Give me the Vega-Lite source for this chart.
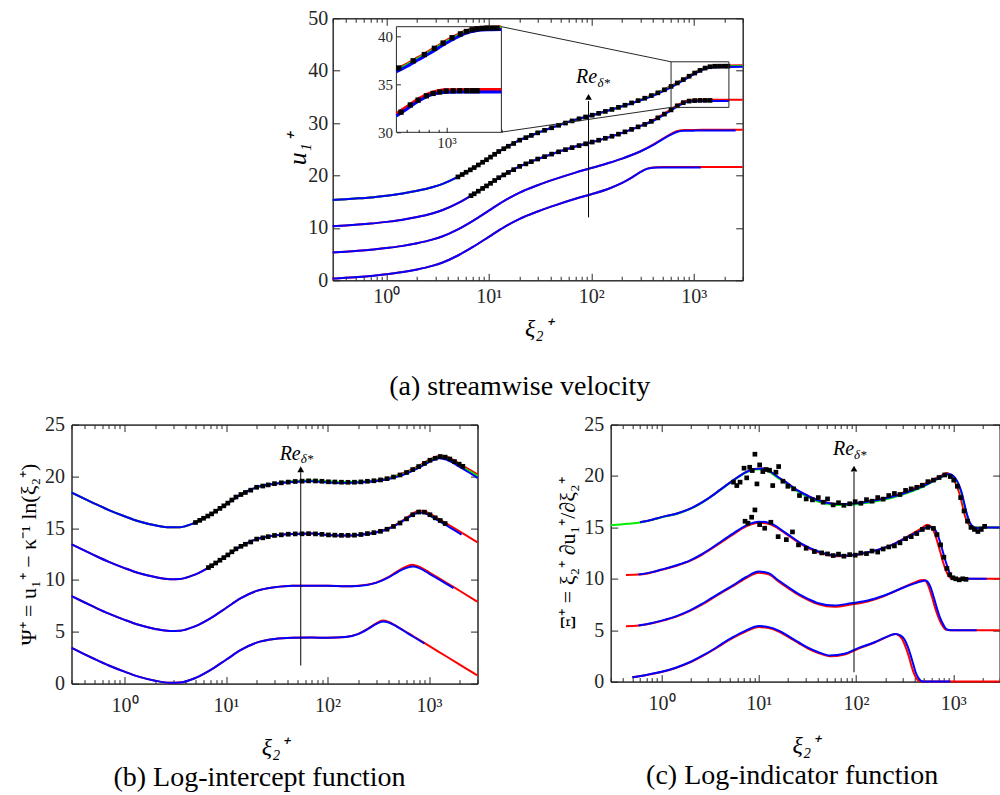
{
"$schema": "https://vega.github.io/schema/vega-lite/v6.json",
"background": "white",
"padding": {"left": 16.5, "top": 7.3, "right": 0, "bottom": 0},
"config": {
  "view": {"stroke": "#262626", "strokeWidth": 1},
  "axis": {"labelFont": "Liberation Serif", "titleFont": "Liberation Serif", "labelColor": "#262626", "titleColor": "#000000", "tickColor": "#262626", "domainColor": "#262626", "grid": false, "titleFontWeight": "normal", "labelFontSize": 20, "titleFontSize": 22, "labelOverlap": false, "labelFlush": false},
  "title": {"font": "Liberation Serif", "fontWeight": "normal", "fontSize": 28, "color": "#000000"}
},
"datasets": {
"ar": [
{"c":1,"x":0.3,"y":0.32},{"c":1,"x":0.4,"y":0.47},{"c":1,"x":0.5,"y":0.6},{"c":1,"x":0.7,"y":0.82},{"c":1,"x":1,"y":1.15},{"c":1,"x":1.4,"y":1.52},{"c":1,"x":2,"y":2.08},{"c":1,"x":2.8,"y":2.76},{"c":1,"x":3.5,"y":3.36},{"c":1,"x":5,"y":4.73},{"c":1,"x":7,"y":6.36},{"c":1,"x":10,"y":8.29},{"c":1,"x":14,"y":10.11},{"c":1,"x":20,"y":11.74},{"c":1,"x":30,"y":13.14},{"c":1,"x":45,"y":14.35},{"c":1,"x":70,"y":15.55},{"c":1,"x":100,"y":16.42},{"c":1,"x":150,"y":17.53},{"c":1,"x":200,"y":18.58},{"c":1,"x":250,"y":19.65},{"c":1,"x":300,"y":20.63},{"c":1,"x":350,"y":21.31},{"c":1,"x":400,"y":21.53},{"c":1,"x":450,"y":21.58},{"c":1,"x":500,"y":21.6},{"c":1,"x":1000,"y":21.6},{"c":1,"x":3000,"y":21.6},
{"c":2,"x":0.3,"y":5.32},{"c":2,"x":0.4,"y":5.47},{"c":2,"x":0.5,"y":5.6},{"c":2,"x":0.7,"y":5.82},{"c":2,"x":1,"y":6.15},{"c":2,"x":1.4,"y":6.52},{"c":2,"x":2,"y":7.08},{"c":2,"x":2.8,"y":7.76},{"c":2,"x":3.5,"y":8.36},{"c":2,"x":5,"y":9.73},{"c":2,"x":7,"y":11.36},{"c":2,"x":10,"y":13.29},{"c":2,"x":14,"y":15.11},{"c":2,"x":20,"y":16.74},{"c":2,"x":30,"y":18.14},{"c":2,"x":45,"y":19.35},{"c":2,"x":70,"y":20.55},{"c":2,"x":100,"y":21.42},{"c":2,"x":150,"y":22.43},{"c":2,"x":200,"y":23.23},{"c":2,"x":300,"y":24.58},{"c":2,"x":400,"y":25.88},{"c":2,"x":500,"y":27.06},{"c":2,"x":600,"y":27.93},{"c":2,"x":680,"y":28.44},{"c":2,"x":800,"y":28.66},{"c":2,"x":1000,"y":28.7},{"c":2,"x":1200,"y":28.72},{"c":2,"x":3000,"y":28.72},
{"c":3,"x":0.3,"y":10.32},{"c":3,"x":0.4,"y":10.47},{"c":3,"x":0.5,"y":10.6},{"c":3,"x":0.7,"y":10.82},{"c":3,"x":1,"y":11.15},{"c":3,"x":1.4,"y":11.52},{"c":3,"x":2,"y":12.08},{"c":3,"x":2.8,"y":12.76},{"c":3,"x":3.5,"y":13.36},{"c":3,"x":5,"y":14.73},{"c":3,"x":7,"y":16.36},{"c":3,"x":10,"y":18.29},{"c":3,"x":14,"y":20.11},{"c":3,"x":20,"y":21.74},{"c":3,"x":30,"y":23.14},{"c":3,"x":45,"y":24.35},{"c":3,"x":70,"y":25.53},{"c":3,"x":100,"y":26.32},{"c":3,"x":150,"y":27.33},{"c":3,"x":200,"y":28.13},{"c":3,"x":300,"y":29.43},{"c":3,"x":400,"y":30.58},{"c":3,"x":500,"y":31.66},{"c":3,"x":600,"y":32.63},{"c":3,"x":700,"y":33.48},{"c":3,"x":800,"y":34.06},{"c":3,"x":900,"y":34.34},{"c":3,"x":1000,"y":34.42},{"c":3,"x":1200,"y":34.44},{"c":3,"x":1500,"y":34.46},{"c":3,"x":3000,"y":34.46},
{"c":4,"x":0.3,"y":15.32},{"c":4,"x":0.4,"y":15.47},{"c":4,"x":0.5,"y":15.6},{"c":4,"x":0.7,"y":15.82},{"c":4,"x":1,"y":16.15},{"c":4,"x":1.4,"y":16.52},{"c":4,"x":2,"y":17.08},{"c":4,"x":2.8,"y":17.76},{"c":4,"x":3.5,"y":18.36},{"c":4,"x":5,"y":19.73},{"c":4,"x":7,"y":21.36},{"c":4,"x":10,"y":23.29},{"c":4,"x":14,"y":25.11},{"c":4,"x":20,"y":26.74},{"c":4,"x":30,"y":28.14},{"c":4,"x":45,"y":29.4},{"c":4,"x":70,"y":30.63},{"c":4,"x":100,"y":31.45},{"c":4,"x":150,"y":32.45},{"c":4,"x":200,"y":33.23},{"c":4,"x":300,"y":34.43},{"c":4,"x":400,"y":35.43},{"c":4,"x":500,"y":36.31},{"c":4,"x":600,"y":37.08},{"c":4,"x":800,"y":38.43},{"c":4,"x":1000,"y":39.56},{"c":4,"x":1260,"y":40.54},{"c":4,"x":1500,"y":40.89},{"c":4,"x":2000,"y":40.98},{"c":4,"x":3000,"y":41.02}
],
"ag": [
{"c":4,"x":0.3,"y":15.32},{"c":4,"x":0.4,"y":15.47},{"c":4,"x":0.5,"y":15.6},{"c":4,"x":0.7,"y":15.82},{"c":4,"x":1,"y":16.15},{"c":4,"x":1.4,"y":16.52},{"c":4,"x":2,"y":17.08},{"c":4,"x":2.8,"y":17.76},{"c":4,"x":3.5,"y":18.36},{"c":4,"x":5,"y":19.73},{"c":4,"x":7,"y":21.36},{"c":4,"x":10,"y":23.29},{"c":4,"x":14,"y":25.11},{"c":4,"x":20,"y":26.74},{"c":4,"x":30,"y":28.14},{"c":4,"x":45,"y":29.4},{"c":4,"x":70,"y":30.63},{"c":4,"x":100,"y":31.45},{"c":4,"x":150,"y":32.45},{"c":4,"x":200,"y":33.23},{"c":4,"x":300,"y":34.36},{"c":4,"x":400,"y":35.33},{"c":4,"x":500,"y":36.2},{"c":4,"x":600,"y":36.96},{"c":4,"x":800,"y":38.31},{"c":4,"x":1000,"y":39.43},{"c":4,"x":1260,"y":40.41},{"c":4,"x":1500,"y":40.76},{"c":4,"x":2000,"y":40.85},{"c":4,"x":3000,"y":40.89}
],
"ab": [
{"c":1,"x":0.3,"y":0.32},{"c":1,"x":0.4,"y":0.47},{"c":1,"x":0.5,"y":0.6},{"c":1,"x":0.7,"y":0.82},{"c":1,"x":1,"y":1.15},{"c":1,"x":1.4,"y":1.52},{"c":1,"x":2,"y":2.08},{"c":1,"x":2.8,"y":2.76},{"c":1,"x":3.5,"y":3.36},{"c":1,"x":5,"y":4.73},{"c":1,"x":7,"y":6.36},{"c":1,"x":10,"y":8.29},{"c":1,"x":14,"y":10.11},{"c":1,"x":20,"y":11.74},{"c":1,"x":30,"y":13.14},{"c":1,"x":45,"y":14.35},{"c":1,"x":70,"y":15.55},{"c":1,"x":100,"y":16.42},{"c":1,"x":150,"y":17.53},{"c":1,"x":200,"y":18.58},{"c":1,"x":250,"y":19.65},{"c":1,"x":300,"y":20.63},{"c":1,"x":350,"y":21.27},{"c":1,"x":400,"y":21.48},{"c":1,"x":450,"y":21.53},{"c":1,"x":500,"y":21.55},{"c":1,"x":1170,"y":21.55},
{"c":2,"x":0.3,"y":5.32},{"c":2,"x":0.4,"y":5.47},{"c":2,"x":0.5,"y":5.6},{"c":2,"x":0.7,"y":5.82},{"c":2,"x":1,"y":6.15},{"c":2,"x":1.4,"y":6.52},{"c":2,"x":2,"y":7.08},{"c":2,"x":2.8,"y":7.76},{"c":2,"x":3.5,"y":8.36},{"c":2,"x":5,"y":9.73},{"c":2,"x":7,"y":11.36},{"c":2,"x":10,"y":13.29},{"c":2,"x":14,"y":15.11},{"c":2,"x":20,"y":16.74},{"c":2,"x":30,"y":18.14},{"c":2,"x":45,"y":19.35},{"c":2,"x":70,"y":20.55},{"c":2,"x":100,"y":21.42},{"c":2,"x":150,"y":22.43},{"c":2,"x":200,"y":23.23},{"c":2,"x":300,"y":24.58},{"c":2,"x":400,"y":25.8},{"c":2,"x":500,"y":26.95},{"c":2,"x":600,"y":27.8},{"c":2,"x":680,"y":28.3},{"c":2,"x":800,"y":28.52},{"c":2,"x":1000,"y":28.56},{"c":2,"x":1200,"y":28.58},{"c":2,"x":2560,"y":28.58},
{"c":3,"x":0.3,"y":10.32},{"c":3,"x":0.4,"y":10.47},{"c":3,"x":0.5,"y":10.6},{"c":3,"x":0.7,"y":10.82},{"c":3,"x":1,"y":11.15},{"c":3,"x":1.4,"y":11.52},{"c":3,"x":2,"y":12.08},{"c":3,"x":2.8,"y":12.76},{"c":3,"x":3.5,"y":13.36},{"c":3,"x":5,"y":14.73},{"c":3,"x":7,"y":16.36},{"c":3,"x":10,"y":18.29},{"c":3,"x":14,"y":20.11},{"c":3,"x":20,"y":21.74},{"c":3,"x":30,"y":23.14},{"c":3,"x":45,"y":24.35},{"c":3,"x":70,"y":25.53},{"c":3,"x":100,"y":26.32},{"c":3,"x":150,"y":27.33},{"c":3,"x":200,"y":28.13},{"c":3,"x":300,"y":29.43},{"c":3,"x":400,"y":30.4},{"c":3,"x":500,"y":31.45},{"c":3,"x":600,"y":32.4},{"c":3,"x":700,"y":33.25},{"c":3,"x":800,"y":33.82},{"c":3,"x":900,"y":34.1},{"c":3,"x":1000,"y":34.18},{"c":3,"x":1200,"y":34.2},{"c":3,"x":2200,"y":34.2},
{"c":4,"x":0.3,"y":15.32},{"c":4,"x":0.4,"y":15.47},{"c":4,"x":0.5,"y":15.6},{"c":4,"x":0.7,"y":15.82},{"c":4,"x":1,"y":16.15},{"c":4,"x":1.4,"y":16.52},{"c":4,"x":2,"y":17.08},{"c":4,"x":2.8,"y":17.76},{"c":4,"x":3.5,"y":18.36},{"c":4,"x":5,"y":19.73},{"c":4,"x":7,"y":21.36},{"c":4,"x":10,"y":23.29},{"c":4,"x":14,"y":25.11},{"c":4,"x":20,"y":26.74},{"c":4,"x":30,"y":28.14},{"c":4,"x":45,"y":29.4},{"c":4,"x":70,"y":30.63},{"c":4,"x":100,"y":31.45},{"c":4,"x":150,"y":32.45},{"c":4,"x":200,"y":33.23},{"c":4,"x":300,"y":34.3},{"c":4,"x":400,"y":35.2},{"c":4,"x":500,"y":36.06},{"c":4,"x":600,"y":36.83},{"c":4,"x":800,"y":38.18},{"c":4,"x":1000,"y":39.3},{"c":4,"x":1260,"y":40.28},{"c":4,"x":1500,"y":40.62},{"c":4,"x":2000,"y":40.72},{"c":4,"x":3000,"y":40.75}
],
"am": [
{"x":5.0,"y":19.73},{"x":5.5,"y":20.19},{"x":6.0,"y":20.62},{"x":6.6,"y":21.08},{"x":7.2,"y":21.51},{"x":7.9,"y":22.01},{"x":8.7,"y":22.53},{"x":9.5,"y":23.01},{"x":10.4,"y":23.51},{"x":11.4,"y":24.05},{"x":12.5,"y":24.58},{"x":14,"y":25.11},{"x":15.5,"y":25.58},{"x":17.5,"y":26.11},{"x":20,"y":26.74},{"x":23,"y":27.22},{"x":26,"y":27.65},{"x":30,"y":28.14},{"x":35,"y":28.62},{"x":41,"y":29.11},{"x":48,"y":29.58},{"x":56,"y":30.01},{"x":65,"y":30.42},{"x":76,"y":30.82},{"x":88,"y":31.17},{"x":102,"y":31.51},{"x":118,"y":31.86},{"x":137,"y":32.23},{"x":159,"y":32.61},{"x":184,"y":33.0},{"x":213,"y":33.41},{"x":247,"y":33.85},{"x":286,"y":34.29},{"x":332,"y":34.75},{"x":385,"y":35.25},{"x":446,"y":35.78},{"x":517,"y":36.36},{"x":600,"y":37.0},{"x":690,"y":37.66},{"x":790,"y":38.3},{"x":900,"y":38.94},{"x":1020,"y":39.55},{"x":1150,"y":40.06},{"x":1290,"y":40.5},{"x":1440,"y":40.76},{"x":1600,"y":40.85},{"x":1780,"y":40.86},{"x":1980,"y":40.86},{"x":2150,"y":40.86},
{"x":6.7,"y":16.15},{"x":7.2,"y":16.51},{"x":7.9,"y":17.01},{"x":8.7,"y":17.53},{"x":9.5,"y":18.01},{"x":10.4,"y":18.51},{"x":11.4,"y":19.05},{"x":12.5,"y":19.58},{"x":14,"y":20.11},{"x":15.5,"y":20.58},{"x":17.5,"y":21.11},{"x":20,"y":21.74},{"x":23,"y":22.22},{"x":26,"y":22.65},{"x":30,"y":23.14},{"x":35,"y":23.6},{"x":41,"y":24.08},{"x":48,"y":24.52},{"x":56,"y":24.93},{"x":65,"y":25.32},{"x":76,"y":25.71},{"x":88,"y":26.05},{"x":102,"y":26.38},{"x":118,"y":26.73},{"x":137,"y":27.1},{"x":159,"y":27.49},{"x":184,"y":27.89},{"x":213,"y":28.33},{"x":247,"y":28.8},{"x":286,"y":29.28},{"x":332,"y":29.75},{"x":385,"y":30.33},{"x":446,"y":31.0},{"x":517,"y":31.72},{"x":600,"y":32.52},{"x":690,"y":33.3},{"x":790,"y":33.9},{"x":900,"y":34.2},{"x":1020,"y":34.3},{"x":1150,"y":34.33},{"x":1290,"y":34.33},{"x":1440,"y":34.33}
],
"ir": [
{"c":3,"x":530,"y":31.95},{"c":3,"x":600,"y":32.63},{"c":3,"x":700,"y":33.48},{"c":3,"x":800,"y":34.06},{"c":3,"x":900,"y":34.34},{"c":3,"x":1000,"y":34.42},{"c":3,"x":1200,"y":34.44},{"c":3,"x":1500,"y":34.46},{"c":3,"x":2000,"y":34.46},
{"c":4,"x":530,"y":36.55},{"c":4,"x":600,"y":37.08},{"c":4,"x":700,"y":37.8},{"c":4,"x":800,"y":38.43},{"c":4,"x":900,"y":39.02},{"c":4,"x":1000,"y":39.56},{"c":4,"x":1130,"y":40.1},{"c":4,"x":1260,"y":40.54},{"c":4,"x":1400,"y":40.78},{"c":4,"x":1500,"y":40.89},{"c":4,"x":1700,"y":40.95},{"c":4,"x":2000,"y":40.98}
],
"ig": [
{"c":4,"x":530,"y":36.43},{"c":4,"x":600,"y":36.96},{"c":4,"x":700,"y":37.68},{"c":4,"x":800,"y":38.31},{"c":4,"x":900,"y":38.9},{"c":4,"x":1000,"y":39.44},{"c":4,"x":1130,"y":39.98},{"c":4,"x":1260,"y":40.42},{"c":4,"x":1400,"y":40.66},{"c":4,"x":1500,"y":40.77},{"c":4,"x":1700,"y":40.83},{"c":4,"x":2000,"y":40.86}
],
"ib": [
{"c":3,"x":530,"y":31.7},{"c":3,"x":600,"y":32.38},{"c":3,"x":700,"y":33.23},{"c":3,"x":800,"y":33.82},{"c":3,"x":900,"y":34.1},{"c":3,"x":1000,"y":34.18},{"c":3,"x":1200,"y":34.2},{"c":3,"x":2000,"y":34.2},
{"c":4,"x":530,"y":36.3},{"c":4,"x":600,"y":36.83},{"c":4,"x":700,"y":37.55},{"c":4,"x":800,"y":38.18},{"c":4,"x":900,"y":38.77},{"c":4,"x":1000,"y":39.3},{"c":4,"x":1130,"y":39.85},{"c":4,"x":1260,"y":40.28},{"c":4,"x":1400,"y":40.52},{"c":4,"x":1500,"y":40.62},{"c":4,"x":1700,"y":40.69},{"c":4,"x":2000,"y":40.72}
],
"im": [
{"x":546,"y":36.7},{"x":655,"y":37.45},{"x":755,"y":38.1},{"x":857,"y":38.75},{"x":957,"y":39.3},{"x":1072,"y":39.85},{"x":1191,"y":40.25},{"x":1285,"y":40.5},{"x":1380,"y":40.68},{"x":1470,"y":40.78},{"x":1567,"y":40.83},{"x":1667,"y":40.86},{"x":1778,"y":40.86},{"x":1892,"y":40.86},
{"x":562,"y":32.1},{"x":632,"y":32.85},{"x":697,"y":33.35},{"x":774,"y":33.8},{"x":843,"y":34.05},{"x":917,"y":34.2},{"x":994,"y":34.3},{"x":1086,"y":34.32},{"x":1181,"y":34.33},{"x":1285,"y":34.33},{"x":1380,"y":34.33},{"x":1470,"y":34.33}
],
"br": [
{"c":1,"x":0.3,"y":3.45},{"c":1,"x":0.4,"y":2.85},{"c":1,"x":0.5,"y":2.4},{"c":1,"x":0.7,"y":1.75},{"c":1,"x":1,"y":1.15},{"c":1,"x":1.4,"y":0.65},{"c":1,"x":2,"y":0.28},{"c":1,"x":2.8,"y":0.08},{"c":1,"x":3.5,"y":0.1},{"c":1,"x":5,"y":0.55},{"c":1,"x":7,"y":1.3},{"c":1,"x":10,"y":2.3},{"c":1,"x":14,"y":3.25},{"c":1,"x":20,"y":3.95},{"c":1,"x":30,"y":4.3},{"c":1,"x":45,"y":4.42},{"c":1,"x":70,"y":4.45},{"c":1,"x":100,"y":4.42},{"c":1,"x":150,"y":4.5},{"c":1,"x":200,"y":4.8},{"c":1,"x":250,"y":5.3},{"c":1,"x":300,"y":5.8},{"c":1,"x":350,"y":6.08},{"c":1,"x":400,"y":5.95},{"c":1,"x":450,"y":5.7},{"c":1,"x":500,"y":5.44},{"c":1,"x":700,"y":4.57},{"c":1,"x":1000,"y":3.64},{"c":1,"x":1500,"y":2.59},{"c":1,"x":2000,"y":1.84},{"c":1,"x":3000,"y":0.78},
{"c":2,"x":0.3,"y":8.45},{"c":2,"x":0.4,"y":7.85},{"c":2,"x":0.5,"y":7.4},{"c":2,"x":0.7,"y":6.75},{"c":2,"x":1,"y":6.15},{"c":2,"x":1.4,"y":5.65},{"c":2,"x":2,"y":5.28},{"c":2,"x":2.8,"y":5.08},{"c":2,"x":3.5,"y":5.1},{"c":2,"x":5,"y":5.55},{"c":2,"x":7,"y":6.3},{"c":2,"x":10,"y":7.3},{"c":2,"x":14,"y":8.25},{"c":2,"x":20,"y":8.95},{"c":2,"x":30,"y":9.3},{"c":2,"x":45,"y":9.45},{"c":2,"x":70,"y":9.45},{"c":2,"x":100,"y":9.45},{"c":2,"x":150,"y":9.4},{"c":2,"x":200,"y":9.45},{"c":2,"x":300,"y":9.75},{"c":2,"x":400,"y":10.3},{"c":2,"x":500,"y":10.9},{"c":2,"x":600,"y":11.3},{"c":2,"x":680,"y":11.48},{"c":2,"x":800,"y":11.28},{"c":2,"x":1000,"y":10.74},{"c":2,"x":1500,"y":9.71},{"c":2,"x":2000,"y":8.96},{"c":2,"x":3000,"y":7.9},
{"c":3,"x":0.3,"y":13.45},{"c":3,"x":0.4,"y":12.85},{"c":3,"x":0.5,"y":12.4},{"c":3,"x":0.7,"y":11.75},{"c":3,"x":1,"y":11.15},{"c":3,"x":1.4,"y":10.65},{"c":3,"x":2,"y":10.28},{"c":3,"x":2.8,"y":10.08},{"c":3,"x":3.5,"y":10.1},{"c":3,"x":5,"y":10.55},{"c":3,"x":7,"y":11.3},{"c":3,"x":10,"y":12.3},{"c":3,"x":14,"y":13.25},{"c":3,"x":20,"y":13.95},{"c":3,"x":30,"y":14.3},{"c":3,"x":45,"y":14.45},{"c":3,"x":70,"y":14.48},{"c":3,"x":100,"y":14.35},{"c":3,"x":150,"y":14.3},{"c":3,"x":200,"y":14.35},{"c":3,"x":300,"y":14.6},{"c":3,"x":400,"y":15.0},{"c":3,"x":500,"y":15.5},{"c":3,"x":600,"y":16.0},{"c":3,"x":700,"y":16.45},{"c":3,"x":800,"y":16.68},{"c":3,"x":900,"y":16.65},{"c":3,"x":1000,"y":16.42},{"c":3,"x":1200,"y":15.98},{"c":3,"x":1500,"y":15.43},{"c":3,"x":2000,"y":14.7},{"c":3,"x":3000,"y":13.64},
{"c":4,"x":0.3,"y":18.45},{"c":4,"x":0.4,"y":17.85},{"c":4,"x":0.5,"y":17.4},{"c":4,"x":0.7,"y":16.75},{"c":4,"x":1,"y":16.15},{"c":4,"x":1.4,"y":15.65},{"c":4,"x":2,"y":15.28},{"c":4,"x":2.8,"y":15.08},{"c":4,"x":3.5,"y":15.1},{"c":4,"x":5,"y":15.55},{"c":4,"x":7,"y":16.3},{"c":4,"x":10,"y":17.3},{"c":4,"x":14,"y":18.25},{"c":4,"x":20,"y":18.95},{"c":4,"x":30,"y":19.3},{"c":4,"x":45,"y":19.5},{"c":4,"x":70,"y":19.58},{"c":4,"x":100,"y":19.48},{"c":4,"x":150,"y":19.42},{"c":4,"x":200,"y":19.45},{"c":4,"x":300,"y":19.6},{"c":4,"x":400,"y":19.85},{"c":4,"x":500,"y":20.15},{"c":4,"x":600,"y":20.45},{"c":4,"x":800,"y":21.05},{"c":4,"x":1000,"y":21.6},{"c":4,"x":1260,"y":21.98},{"c":4,"x":1500,"y":21.88},{"c":4,"x":2000,"y":21.22},{"c":4,"x":2500,"y":20.65},{"c":4,"x":3000,"y":20.2}
],
"bg": [
{"c":4,"x":0.3,"y":18.45},{"c":4,"x":0.4,"y":17.85},{"c":4,"x":0.5,"y":17.4},{"c":4,"x":0.7,"y":16.75},{"c":4,"x":1,"y":16.15},{"c":4,"x":1.4,"y":15.65},{"c":4,"x":2,"y":15.28},{"c":4,"x":2.8,"y":15.08},{"c":4,"x":3.5,"y":15.1},{"c":4,"x":5,"y":15.55},{"c":4,"x":7,"y":16.3},{"c":4,"x":10,"y":17.3},{"c":4,"x":14,"y":18.25},{"c":4,"x":20,"y":18.95},{"c":4,"x":30,"y":19.3},{"c":4,"x":45,"y":19.52},{"c":4,"x":70,"y":19.6},{"c":4,"x":100,"y":19.52},{"c":4,"x":150,"y":19.46},{"c":4,"x":200,"y":19.48},{"c":4,"x":300,"y":19.57},{"c":4,"x":400,"y":19.8},{"c":4,"x":500,"y":20.08},{"c":4,"x":600,"y":20.37},{"c":4,"x":800,"y":20.95},{"c":4,"x":1000,"y":21.49},{"c":4,"x":1260,"y":21.86},{"c":4,"x":1500,"y":21.74},{"c":4,"x":2000,"y":21.07},{"c":4,"x":2500,"y":20.5},{"c":4,"x":3000,"y":20.03}
],
"bb": [
{"c":1,"x":0.3,"y":3.45},{"c":1,"x":0.4,"y":2.85},{"c":1,"x":0.5,"y":2.4},{"c":1,"x":0.7,"y":1.75},{"c":1,"x":1,"y":1.15},{"c":1,"x":1.4,"y":0.65},{"c":1,"x":2,"y":0.28},{"c":1,"x":2.8,"y":0.08},{"c":1,"x":3.5,"y":0.1},{"c":1,"x":5,"y":0.55},{"c":1,"x":7,"y":1.3},{"c":1,"x":10,"y":2.3},{"c":1,"x":14,"y":3.25},{"c":1,"x":20,"y":3.95},{"c":1,"x":30,"y":4.3},{"c":1,"x":45,"y":4.42},{"c":1,"x":70,"y":4.45},{"c":1,"x":100,"y":4.42},{"c":1,"x":150,"y":4.5},{"c":1,"x":200,"y":4.78},{"c":1,"x":250,"y":5.27},{"c":1,"x":300,"y":5.75},{"c":1,"x":350,"y":6.0},{"c":1,"x":400,"y":5.9},{"c":1,"x":450,"y":5.66},{"c":1,"x":500,"y":5.4},{"c":1,"x":700,"y":4.52},{"c":1,"x":900,"y":3.87},
{"c":2,"x":0.3,"y":8.45},{"c":2,"x":0.4,"y":7.85},{"c":2,"x":0.5,"y":7.4},{"c":2,"x":0.7,"y":6.75},{"c":2,"x":1,"y":6.15},{"c":2,"x":1.4,"y":5.65},{"c":2,"x":2,"y":5.28},{"c":2,"x":2.8,"y":5.08},{"c":2,"x":3.5,"y":5.1},{"c":2,"x":5,"y":5.55},{"c":2,"x":7,"y":6.3},{"c":2,"x":10,"y":7.3},{"c":2,"x":14,"y":8.25},{"c":2,"x":20,"y":8.95},{"c":2,"x":30,"y":9.3},{"c":2,"x":45,"y":9.45},{"c":2,"x":70,"y":9.45},{"c":2,"x":100,"y":9.45},{"c":2,"x":150,"y":9.4},{"c":2,"x":200,"y":9.43},{"c":2,"x":300,"y":9.72},{"c":2,"x":400,"y":10.25},{"c":2,"x":500,"y":10.82},{"c":2,"x":600,"y":11.17},{"c":2,"x":700,"y":11.3},{"c":2,"x":800,"y":11.15},{"c":2,"x":1000,"y":10.62},{"c":2,"x":1500,"y":9.6},{"c":2,"x":1740,"y":9.22},
{"c":3,"x":0.3,"y":13.45},{"c":3,"x":0.4,"y":12.85},{"c":3,"x":0.5,"y":12.4},{"c":3,"x":0.7,"y":11.75},{"c":3,"x":1,"y":11.15},{"c":3,"x":1.4,"y":10.65},{"c":3,"x":2,"y":10.28},{"c":3,"x":2.8,"y":10.08},{"c":3,"x":3.5,"y":10.1},{"c":3,"x":5,"y":10.55},{"c":3,"x":7,"y":11.3},{"c":3,"x":10,"y":12.3},{"c":3,"x":14,"y":13.25},{"c":3,"x":20,"y":13.95},{"c":3,"x":30,"y":14.3},{"c":3,"x":45,"y":14.45},{"c":3,"x":70,"y":14.48},{"c":3,"x":100,"y":14.35},{"c":3,"x":150,"y":14.3},{"c":3,"x":200,"y":14.35},{"c":3,"x":300,"y":14.58},{"c":3,"x":400,"y":14.95},{"c":3,"x":500,"y":15.43},{"c":3,"x":600,"y":15.92},{"c":3,"x":700,"y":16.32},{"c":3,"x":800,"y":16.52},{"c":3,"x":900,"y":16.47},{"c":3,"x":1000,"y":16.24},{"c":3,"x":1200,"y":15.8},{"c":3,"x":1500,"y":15.25},{"c":3,"x":2090,"y":14.38},
{"c":4,"x":0.3,"y":18.45},{"c":4,"x":0.4,"y":17.85},{"c":4,"x":0.5,"y":17.4},{"c":4,"x":0.7,"y":16.75},{"c":4,"x":1,"y":16.15},{"c":4,"x":1.4,"y":15.65},{"c":4,"x":2,"y":15.28},{"c":4,"x":2.8,"y":15.08},{"c":4,"x":3.5,"y":15.1},{"c":4,"x":5,"y":15.55},{"c":4,"x":7,"y":16.3},{"c":4,"x":10,"y":17.3},{"c":4,"x":14,"y":18.25},{"c":4,"x":20,"y":18.95},{"c":4,"x":30,"y":19.28},{"c":4,"x":45,"y":19.46},{"c":4,"x":70,"y":19.52},{"c":4,"x":100,"y":19.42},{"c":4,"x":150,"y":19.36},{"c":4,"x":200,"y":19.4},{"c":4,"x":300,"y":19.55},{"c":4,"x":400,"y":19.75},{"c":4,"x":500,"y":20.0},{"c":4,"x":600,"y":20.28},{"c":4,"x":800,"y":20.85},{"c":4,"x":1000,"y":21.38},{"c":4,"x":1260,"y":21.75},{"c":4,"x":1500,"y":21.6},{"c":4,"x":2000,"y":20.92},{"c":4,"x":2500,"y":20.35},{"c":4,"x":3000,"y":19.86}
],
"bm": [
{"x":5.0,"y":15.55},{"x":5.5,"y":15.76},{"x":6.0,"y":15.96},{"x":6.6,"y":16.17},{"x":7.2,"y":16.38},{"x":7.9,"y":16.64},{"x":8.7,"y":16.91},{"x":9.5,"y":17.16},{"x":10.4,"y":17.42},{"x":11.4,"y":17.72},{"x":12.5,"y":18.01},{"x":14,"y":18.25},{"x":15.5,"y":18.45},{"x":17.5,"y":18.67},{"x":20,"y":18.95},{"x":23,"y":19.07},{"x":26,"y":19.18},{"x":30,"y":19.3},{"x":35,"y":19.38},{"x":41,"y":19.45},{"x":48,"y":19.51},{"x":56,"y":19.54},{"x":65,"y":19.57},{"x":76,"y":19.56},{"x":88,"y":19.53},{"x":102,"y":19.48},{"x":118,"y":19.46},{"x":137,"y":19.44},{"x":159,"y":19.43},{"x":184,"y":19.44},{"x":213,"y":19.47},{"x":247,"y":19.53},{"x":286,"y":19.58},{"x":332,"y":19.66},{"x":385,"y":19.78},{"x":446,"y":19.94},{"x":517,"y":20.14},{"x":600,"y":20.38},{"x":690,"y":20.66},{"x":790,"y":20.95},{"x":900,"y":21.25},{"x":1020,"y":21.56},{"x":1150,"y":21.75},{"x":1290,"y":21.92},{"x":1440,"y":21.86},{"x":1600,"y":21.68},{"x":1780,"y":21.43},{"x":1980,"y":21.18},{"x":2150,"y":20.97},
{"x":6.7,"y":11.2},{"x":7.2,"y":11.38},{"x":7.9,"y":11.64},{"x":8.7,"y":11.91},{"x":9.5,"y":12.16},{"x":10.4,"y":12.42},{"x":11.4,"y":12.72},{"x":12.5,"y":13.01},{"x":14,"y":13.25},{"x":15.5,"y":13.45},{"x":17.5,"y":13.67},{"x":20,"y":13.95},{"x":23,"y":14.07},{"x":26,"y":14.18},{"x":30,"y":14.3},{"x":35,"y":14.36},{"x":41,"y":14.42},{"x":48,"y":14.45},{"x":56,"y":14.46},{"x":65,"y":14.47},{"x":76,"y":14.45},{"x":88,"y":14.41},{"x":102,"y":14.35},{"x":118,"y":14.33},{"x":137,"y":14.31},{"x":159,"y":14.31},{"x":184,"y":14.33},{"x":213,"y":14.39},{"x":247,"y":14.48},{"x":286,"y":14.57},{"x":332,"y":14.7},{"x":385,"y":14.9},{"x":446,"y":15.17},{"x":517,"y":15.5},{"x":600,"y":15.9},{"x":690,"y":16.3},{"x":790,"y":16.56},{"x":900,"y":16.55},{"x":1020,"y":16.3},{"x":1150,"y":16.0},{"x":1290,"y":15.74},{"x":1440,"y":15.45}
],
"cr": [
{"c":1,"x":0.5,"y":0.42},{"c":1,"x":0.7,"y":0.64},{"c":1,"x":1,"y":0.93},{"c":1,"x":1.4,"y":1.32},{"c":1,"x":1.94,"y":1.84},{"c":1,"x":2.6,"y":2.45},{"c":1,"x":3.36,"y":3.05},{"c":1,"x":4.2,"y":3.63},{"c":1,"x":5.36,"y":4.22},{"c":1,"x":7.34,"y":4.86},{"c":1,"x":10,"y":5.3},{"c":1,"x":12.6,"y":5.2},{"c":1,"x":16,"y":4.86},{"c":1,"x":20,"y":4.35},{"c":1,"x":25.6,"y":3.75},{"c":1,"x":32,"y":3.22},{"c":1,"x":41,"y":2.78},{"c":1,"x":54,"y":2.46},{"c":1,"x":76,"y":2.64},{"c":1,"x":105,"y":3.2},{"c":1,"x":155,"y":3.8},{"c":1,"x":200,"y":4.28},{"c":1,"x":229,"y":4.52},{"c":1,"x":250,"y":4.62},{"c":1,"x":275,"y":4.5},{"c":1,"x":300,"y":4.1},{"c":1,"x":325,"y":3.3},{"c":1,"x":350,"y":2.4},{"c":1,"x":372,"y":1.5},{"c":1,"x":392,"y":0.85},{"c":1,"x":415,"y":0.35},{"c":1,"x":440,"y":0.08},{"c":1,"x":480,"y":0.0},{"c":1,"x":3000,"y":0.0},
{"c":2,"x":0.43,"y":5.38},{"c":2,"x":0.58,"y":5.45},{"c":2,"x":0.8,"y":5.68},{"c":2,"x":1,"y":5.9},{"c":2,"x":1.4,"y":6.3},{"c":2,"x":1.94,"y":6.85},{"c":2,"x":2.6,"y":7.48},{"c":2,"x":3.36,"y":8.12},{"c":2,"x":4.2,"y":8.67},{"c":2,"x":5.36,"y":9.25},{"c":2,"x":7.34,"y":10.05},{"c":2,"x":10,"y":10.58},{"c":2,"x":12.6,"y":10.45},{"c":2,"x":16,"y":9.73},{"c":2,"x":20,"y":9.1},{"c":2,"x":25.6,"y":8.43},{"c":2,"x":32,"y":7.95},{"c":2,"x":41,"y":7.52},{"c":2,"x":60,"y":7.28},{"c":2,"x":89,"y":7.5},{"c":2,"x":132,"y":7.8},{"c":2,"x":195,"y":8.33},{"c":2,"x":313,"y":9.2},{"c":2,"x":400,"y":9.65},{"c":2,"x":461,"y":9.85},{"c":2,"x":500,"y":9.88},{"c":2,"x":530,"y":9.7},{"c":2,"x":560,"y":9.2},{"c":2,"x":605,"y":8.2},{"c":2,"x":655,"y":7.07},{"c":2,"x":700,"y":6.3},{"c":2,"x":740,"y":5.77},{"c":2,"x":785,"y":5.35},{"c":2,"x":835,"y":5.06},{"c":2,"x":920,"y":5.0},{"c":2,"x":3000,"y":5.0},
{"c":3,"x":0.43,"y":10.38},{"c":3,"x":0.58,"y":10.41},{"c":3,"x":0.8,"y":10.63},{"c":3,"x":1,"y":10.87},{"c":3,"x":1.4,"y":11.25},{"c":3,"x":1.94,"y":11.72},{"c":3,"x":2.6,"y":12.33},{"c":3,"x":3.36,"y":13.0},{"c":3,"x":4.2,"y":13.62},{"c":3,"x":5.36,"y":14.28},{"c":3,"x":7.34,"y":15.08},{"c":3,"x":10,"y":15.45},{"c":3,"x":12.6,"y":15.35},{"c":3,"x":18.7,"y":14.42},{"c":3,"x":27.7,"y":13.32},{"c":3,"x":41,"y":12.58},{"c":3,"x":65,"y":12.2},{"c":3,"x":97,"y":12.3},{"c":3,"x":155,"y":12.72},{"c":3,"x":228,"y":13.25},{"c":3,"x":337,"y":14.1},{"c":3,"x":461,"y":14.85},{"c":3,"x":540,"y":15.25},{"c":3,"x":600,"y":15.0},{"c":3,"x":650,"y":14.3},{"c":3,"x":695,"y":13.4},{"c":3,"x":735,"y":12.6},{"c":3,"x":780,"y":11.7},{"c":3,"x":830,"y":10.95},{"c":3,"x":880,"y":10.4},{"c":3,"x":940,"y":10.08},{"c":3,"x":1050,"y":10.0},{"c":3,"x":3000,"y":10.0},
{"c":4,"x":0.6,"y":15.5},{"c":4,"x":0.8,"y":15.75},{"c":4,"x":1,"y":16.0},{"c":4,"x":1.5,"y":16.4},{"c":4,"x":2,"y":16.85},{"c":4,"x":3,"y":17.8},{"c":4,"x":4,"y":18.65},{"c":4,"x":5.4,"y":19.55},{"c":4,"x":7.3,"y":20.35},{"c":4,"x":9,"y":20.68},{"c":4,"x":11,"y":20.72},{"c":4,"x":13,"y":20.45},{"c":4,"x":16,"y":19.85},{"c":4,"x":19,"y":19.4},{"c":4,"x":25,"y":18.6},{"c":4,"x":30,"y":18.2},{"c":4,"x":40,"y":17.65},{"c":4,"x":50,"y":17.4},{"c":4,"x":60,"y":17.28},{"c":4,"x":80,"y":17.28},{"c":4,"x":100,"y":17.35},{"c":4,"x":150,"y":17.62},{"c":4,"x":230,"y":18.0},{"c":4,"x":340,"y":18.55},{"c":4,"x":500,"y":19.2},{"c":4,"x":740,"y":20.0},{"c":4,"x":860,"y":20.3},{"c":4,"x":950,"y":20.0},{"c":4,"x":1040,"y":19.4},{"c":4,"x":1110,"y":18.8},{"c":4,"x":1180,"y":18.0},{"c":4,"x":1250,"y":17.0},{"c":4,"x":1330,"y":16.0},{"c":4,"x":1420,"y":15.4},{"c":4,"x":1520,"y":15.08},{"c":4,"x":1620,"y":14.98},{"c":4,"x":2000,"y":15.0},{"c":4,"x":3000,"y":15.0}
],
"cg": [
{"c":4,"x":0.3,"y":15.22},{"c":4,"x":0.45,"y":15.36},{"c":4,"x":0.6,"y":15.48},{"c":4,"x":0.8,"y":15.73},{"c":4,"x":1,"y":15.98},{"c":4,"x":1.5,"y":16.38},{"c":4,"x":2,"y":16.83},{"c":4,"x":3,"y":17.78},{"c":4,"x":4,"y":18.63},{"c":4,"x":5.4,"y":19.53},{"c":4,"x":7.3,"y":20.32},{"c":4,"x":9,"y":20.64},{"c":4,"x":11,"y":20.66},{"c":4,"x":13,"y":20.38},{"c":4,"x":16,"y":19.76},{"c":4,"x":19,"y":19.3},{"c":4,"x":25,"y":18.5},{"c":4,"x":30,"y":18.1},{"c":4,"x":40,"y":17.55},{"c":4,"x":50,"y":17.3},{"c":4,"x":60,"y":17.18},{"c":4,"x":80,"y":17.18},{"c":4,"x":100,"y":17.25},{"c":4,"x":150,"y":17.5},{"c":4,"x":230,"y":17.86},{"c":4,"x":340,"y":18.36},{"c":4,"x":500,"y":19.0},{"c":4,"x":740,"y":19.84},{"c":4,"x":900,"y":20.15},{"c":4,"x":1000,"y":19.95},{"c":4,"x":1090,"y":19.45},{"c":4,"x":1160,"y":18.85},{"c":4,"x":1230,"y":18.05},{"c":4,"x":1300,"y":17.1},{"c":4,"x":1380,"y":16.15},{"c":4,"x":1460,"y":15.5},{"c":4,"x":1550,"y":15.12},{"c":4,"x":1650,"y":14.98},{"c":4,"x":2000,"y":15.0},{"c":4,"x":3000,"y":15.0}
],
"cb": [
{"c":1,"x":0.5,"y":0.42},{"c":1,"x":0.7,"y":0.65},{"c":1,"x":1,"y":0.95},{"c":1,"x":1.4,"y":1.35},{"c":1,"x":1.94,"y":1.88},{"c":1,"x":2.6,"y":2.5},{"c":1,"x":3.36,"y":3.1},{"c":1,"x":4.2,"y":3.7},{"c":1,"x":5.36,"y":4.3},{"c":1,"x":7.34,"y":4.96},{"c":1,"x":10,"y":5.4},{"c":1,"x":12.6,"y":5.3},{"c":1,"x":16,"y":4.96},{"c":1,"x":20,"y":4.45},{"c":1,"x":25.6,"y":3.83},{"c":1,"x":32,"y":3.3},{"c":1,"x":41,"y":2.86},{"c":1,"x":54,"y":2.53},{"c":1,"x":76,"y":2.7},{"c":1,"x":105,"y":3.25},{"c":1,"x":155,"y":3.83},{"c":1,"x":200,"y":4.3},{"c":1,"x":229,"y":4.54},{"c":1,"x":257,"y":4.64},{"c":1,"x":285,"y":4.5},{"c":1,"x":313,"y":4.15},{"c":1,"x":340,"y":3.4},{"c":1,"x":365,"y":2.53},{"c":1,"x":390,"y":1.6},{"c":1,"x":410,"y":0.91},{"c":1,"x":435,"y":0.4},{"c":1,"x":461,"y":0.1},{"c":1,"x":500,"y":0.0},{"c":1,"x":933,"y":0.0},
{"c":2,"x":0.58,"y":5.45},{"c":2,"x":0.8,"y":5.7},{"c":2,"x":1,"y":5.93},{"c":2,"x":1.4,"y":6.35},{"c":2,"x":1.94,"y":6.9},{"c":2,"x":2.6,"y":7.55},{"c":2,"x":3.36,"y":8.2},{"c":2,"x":4.2,"y":8.75},{"c":2,"x":5.36,"y":9.34},{"c":2,"x":7.34,"y":10.15},{"c":2,"x":10,"y":10.7},{"c":2,"x":12.6,"y":10.55},{"c":2,"x":16,"y":9.83},{"c":2,"x":20,"y":9.2},{"c":2,"x":25.6,"y":8.53},{"c":2,"x":32,"y":8.05},{"c":2,"x":41,"y":7.62},{"c":2,"x":60,"y":7.4},{"c":2,"x":89,"y":7.62},{"c":2,"x":132,"y":7.88},{"c":2,"x":195,"y":8.37},{"c":2,"x":313,"y":9.18},{"c":2,"x":400,"y":9.55},{"c":2,"x":461,"y":9.73},{"c":2,"x":519,"y":9.83},{"c":2,"x":550,"y":9.65},{"c":2,"x":583,"y":9.18},{"c":2,"x":630,"y":8.2},{"c":2,"x":682,"y":7.07},{"c":2,"x":725,"y":6.3},{"c":2,"x":767,"y":5.77},{"c":2,"x":810,"y":5.35},{"c":2,"x":862,"y":5.06},{"c":2,"x":950,"y":5.0},{"c":2,"x":1740,"y":5.0},
{"c":3,"x":0.58,"y":10.41},{"c":3,"x":0.8,"y":10.65},{"c":3,"x":1,"y":10.9},{"c":3,"x":1.4,"y":11.3},{"c":3,"x":1.94,"y":11.77},{"c":3,"x":2.6,"y":12.4},{"c":3,"x":3.36,"y":13.07},{"c":3,"x":4.2,"y":13.7},{"c":3,"x":5.36,"y":14.37},{"c":3,"x":7.34,"y":15.18},{"c":3,"x":10,"y":15.55},{"c":3,"x":12.6,"y":15.45},{"c":3,"x":18.7,"y":14.5},{"c":3,"x":27.7,"y":13.4},{"c":3,"x":41,"y":12.65},{"c":3,"x":65,"y":12.26},{"c":3,"x":97,"y":12.35},{"c":3,"x":155,"y":12.74},{"c":3,"x":228,"y":13.23},{"c":3,"x":337,"y":14.04},{"c":3,"x":461,"y":14.69},{"c":3,"x":561,"y":15.05},{"c":3,"x":620,"y":14.95},{"c":3,"x":682,"y":14.4},{"c":3,"x":725,"y":13.7},{"c":3,"x":767,"y":12.9},{"c":3,"x":815,"y":12.0},{"c":3,"x":862,"y":11.29},{"c":3,"x":915,"y":10.6},{"c":3,"x":970,"y":10.15},{"c":3,"x":1090,"y":9.97},{"c":3,"x":1250,"y":10.0},{"c":3,"x":2200,"y":10.0},
{"c":4,"x":0.6,"y":15.5},{"c":4,"x":0.8,"y":15.75},{"c":4,"x":1,"y":16.0},{"c":4,"x":1.5,"y":16.4},{"c":4,"x":2,"y":16.85},{"c":4,"x":3,"y":17.8},{"c":4,"x":4,"y":18.65},{"c":4,"x":5.4,"y":19.55},{"c":4,"x":7.3,"y":20.35},{"c":4,"x":9,"y":20.68},{"c":4,"x":11,"y":20.72},{"c":4,"x":13,"y":20.45},{"c":4,"x":16,"y":19.85},{"c":4,"x":19,"y":19.4},{"c":4,"x":25,"y":18.6},{"c":4,"x":30,"y":18.2},{"c":4,"x":40,"y":17.65},{"c":4,"x":50,"y":17.4},{"c":4,"x":60,"y":17.28},{"c":4,"x":80,"y":17.28},{"c":4,"x":100,"y":17.35},{"c":4,"x":150,"y":17.6},{"c":4,"x":230,"y":17.95},{"c":4,"x":340,"y":18.45},{"c":4,"x":500,"y":19.07},{"c":4,"x":740,"y":19.88},{"c":4,"x":900,"y":20.2},{"c":4,"x":1000,"y":20.0},{"c":4,"x":1090,"y":19.55},{"c":4,"x":1160,"y":19.0},{"c":4,"x":1230,"y":18.26},{"c":4,"x":1300,"y":17.3},{"c":4,"x":1380,"y":16.31},{"c":4,"x":1460,"y":15.6},{"c":4,"x":1550,"y":15.18},{"c":4,"x":1650,"y":15.0},{"c":4,"x":1750,"y":14.95},{"c":4,"x":2000,"y":15.0},{"c":4,"x":3000,"y":15.0}
],
"cm": [
{"x":5.49,"y":19.4},{"x":5.94,"y":19.07},{"x":6.42,"y":19.4},{"x":7.05,"y":20.76},{"x":7.51,"y":19.82},{"x":8.06,"y":20.85},{"x":8.57,"y":20.53},{"x":9.12,"y":22.12},{"x":9.57,"y":19.23},{"x":10.2,"y":21.08},{"x":11.0,"y":20.43},{"x":11.9,"y":20.63},{"x":12.9,"y":20.56},{"x":13.9,"y":19.07},{"x":15.0,"y":20.37},{"x":16.0,"y":20.92},{"x":17.7,"y":19.49},{"x":19.9,"y":19.0},{"x":22.8,"y":18.75},{"x":26.2,"y":18.1},{"x":30.7,"y":17.77},{"x":35.6,"y":17.68},{"x":40.9,"y":17.9},{"x":46,"y":17.45},{"x":50.9,"y":17.77},{"x":58.2,"y":17.19},{"x":66,"y":17.4},{"x":75,"y":17.15},{"x":86,"y":17.3},{"x":98,"y":17.5},{"x":112,"y":17.35},{"x":128,"y":17.7},{"x":146,"y":17.55},{"x":167,"y":17.9},{"x":190,"y":17.75},{"x":217,"y":18.1},{"x":248,"y":18.3},{"x":283,"y":18.2},{"x":323,"y":18.6},{"x":369,"y":18.75},{"x":421,"y":18.9},{"x":480,"y":19.1},{"x":548,"y":19.45},{"x":625,"y":19.6},{"x":714,"y":19.85},{"x":815,"y":20.1},{"x":930,"y":19.95},{"x":1010,"y":19.6},{"x":1100,"y":19.0},{"x":1190,"y":17.9},{"x":1290,"y":16.6},{"x":1400,"y":15.6},{"x":1520,"y":15.0},{"x":1650,"y":14.8},{"x":1790,"y":14.6},{"x":1940,"y":14.8},{"x":2100,"y":15.1},
{"x":7.22,"y":15.6},{"x":7.74,"y":15.41},{"x":8.44,"y":15.99},{"x":9.12,"y":16.7},{"x":10.2,"y":15.27},{"x":11.5,"y":14.92},{"x":13.3,"y":15.5},{"x":15.8,"y":14.1},{"x":19.2,"y":13.81},{"x":22.2,"y":14.56},{"x":25.6,"y":13.3},{"x":30.7,"y":12.97},{"x":37.3,"y":12.65},{"x":44.3,"y":12.52},{"x":50.9,"y":12.42},{"x":58.2,"y":12.26},{"x":66,"y":12.4},{"x":75,"y":12.2},{"x":86,"y":12.35},{"x":98,"y":12.3},{"x":112,"y":12.5},{"x":128,"y":12.45},{"x":146,"y":12.7},{"x":167,"y":12.6},{"x":190,"y":12.9},{"x":217,"y":13.1},{"x":248,"y":13.2},{"x":283,"y":13.5},{"x":323,"y":13.9},{"x":369,"y":14.1},{"x":421,"y":14.4},{"x":480,"y":14.8},{"x":548,"y":15.0},{"x":625,"y":14.9},{"x":680,"y":14.3},{"x":740,"y":13.3},{"x":800,"y":12.1},{"x":860,"y":11.0},{"x":920,"y":10.4},{"x":990,"y":10.1},{"x":1060,"y":10.0},{"x":1150,"y":9.9},{"x":1250,"y":10.0},{"x":1350,"y":9.95}
]
},
"vconcat": [
{
  "hconcat": [
    {
      "width": 127.6, "height": 262,
      "data": {"values": [{"x": 1}]},
      "mark": {"type": "point", "opacity": 0},
      "view": {"stroke": null}
    },
    {
      "width": 410, "height": 262,
      "title": {"text": "(a) streamwise velocity", "orient": "bottom", "offset": 33, "dx": -18, "anchor": "middle", "frame": "group"},
      "layer": [
        {
          "encoding": {
            "x": {"field": "x", "type": "quantitative", "scale": {"type": "log", "domain": [0.3, 3000], "nice": false},
                  "axis": {"orient": "bottom", "values": [0.3,0.4,0.5,0.6,0.7,0.8,0.9,1,2,3,4,5,6,7,8,9,10,20,30,40,50,60,70,80,90,100,200,300,400,500,600,700,800,900,1000,2000,3000],
                           "labelExpr": "datum.value==1?'10⁰':datum.value==10?'10¹':datum.value==100?'10²':datum.value==1000?'10³':''",
                           "tickSize": {"condition": {"test": "indexof([1,10,100,1000],datum.value)>=0", "value": -7}, "value": -4},
                           "labelPadding": 13, "title": "ξ₂⁺", "titleFontStyle": "italic", "titleFontSize": 24, "titlePadding": 7}},
            "y": {"field": "y", "type": "quantitative", "scale": {"domain": [0, 50], "nice": false, "zero": false},
                  "axis": {"orient": "left", "values": [0,10,20,30,40,50], "tickSize": -7, "labelPadding": 12, "title": "u₁⁺", "titleFontStyle": "italic", "titleFontSize": 26, "titlePadding": -3}}
          },
          "layer": [
            {"data": {"name": "ar"}, "mark": {"type": "line", "color": "#ff0000", "strokeWidth": 2, "interpolate": "monotone"}, "encoding": {"detail": {"field": "c"}}},
            {"data": {"name": "ag"}, "mark": {"type": "line", "color": "#00ee00", "strokeWidth": 2, "interpolate": "monotone"}, "encoding": {"detail": {"field": "c"}}},
            {"data": {"name": "ab"}, "mark": {"type": "line", "color": "#0000ff", "strokeWidth": 2, "interpolate": "monotone"}, "encoding": {"detail": {"field": "c"}}},
            {"data": {"name": "am"}, "mark": {"type": "square", "color": "#000000", "size": 22, "opacity": 1, "filled": true}},
            {"data": {"values": [{"x": 13.27, "y": 48.4, "x2": 600, "y2": 41.7}, {"x": 13.27, "y": 28.28, "x2": 600, "y2": 33.0}]}, "mark": {"type": "rule", "color": "#262626", "strokeWidth": 1}, "encoding": {"x2": {"field": "x2"}, "y2": {"field": "y2"}}},
            {"data": {"values": [{"x": 600, "y": 33.0, "x2": 2200, "y2": 41.7}]}, "mark": {"type": "rect", "fillOpacity": 0, "stroke": "#262626", "strokeWidth": 1}, "encoding": {"x2": {"field": "x2"}, "y2": {"field": "y2"}}},
            {"data": {"values": [{"x": 94, "y": 12.0, "y2": 34.2}]}, "mark": {"type": "rule", "color": "#000000", "strokeWidth": 1}, "encoding": {"y2": {"field": "y2"}}},
            {"data": {"values": [{"x": 94, "y": 35.56}]}, "mark": {"type": "point", "shape": "triangle-up", "filled": true, "color": "#000000", "opacity": 1, "size": 45, "yOffset": 3}},
            {"data": {"values": [{"x": 94, "y": 37.66, "t": "Re"}]}, "mark": {"type": "text", "font": "Liberation Serif", "fontStyle": "italic", "fontSize": 20, "align": "center", "baseline": "alphabetic", "dx": -2}, "encoding": {"text": {"field": "t"}}},
            {"data": {"values": [{"x": 94, "y": 36.9, "t": "δ*"}]}, "mark": {"type": "text", "font": "Liberation Serif", "fontStyle": "italic", "fontSize": 13, "align": "left", "baseline": "alphabetic", "dx": 9}, "encoding": {"text": {"field": "t"}}}
          ]
        },
        {
          "data": {"values": [{"x": 1, "y": 1}]},
          "mark": {"type": "point", "opacity": 0},
          "encoding": {
            "x": {"field": "x", "type": "quantitative", "scale": {"type": "log", "domain": [0.3, 3000], "nice": false},
                  "axis": {"orient": "top", "values": [0.3,0.4,0.5,0.6,0.7,0.8,0.9,1,2,3,4,5,6,7,8,9,10,20,30,40,50,60,70,80,90,100,200,300,400,500,600,700,800,900,1000,2000,3000], "labels": false, "title": null,
                           "tickSize": {"condition": {"test": "indexof([1,10,100,1000],datum.value)>=0", "value": -7}, "value": -4}}},
            "y": {"field": "y", "type": "quantitative", "scale": {"domain": [0, 50], "nice": false, "zero": false},
                  "axis": {"orient": "right", "values": [0,10,20,30,40,50], "labels": false, "title": null, "tickSize": -7}}
          }
        },
        {
          "encoding": {
            "x": {"field": "x", "type": "quantitative", "scale": {"type": "log", "domain": [530, 2000], "nice": false, "range": [63.7, 168.7]},
                  "axis": {"orient": "bottom", "offset": -148, "values": [600,700,800,900,1000,2000], "labelExpr": "datum.value==1000?'10³':''",
                           "tickSize": {"condition": {"test": "datum.value==1000", "value": -5}, "value": -3}, "labelPadding": 8, "labelFontSize": 15, "domain": false, "title": null, "zindex": 1}},
            "y": {"field": "y", "type": "quantitative", "scale": {"domain": [30, 41], "nice": false, "zero": false, "range": [114, 8.4]},
                  "axis": {"orient": "left", "offset": -63.7, "values": [30,35,40], "tickSize": -4, "labelPadding": 8, "labelFontSize": 15, "domain": false, "title": null, "zindex": 1}}
          },
          "layer": [
            {"data": {"values": [{"x": 530, "y": 30, "x2": 2000, "y2": 41}]}, "mark": {"type": "rect", "fill": "#ffffff", "stroke": "#262626", "strokeWidth": 1}, "encoding": {"x2": {"field": "x2"}, "y2": {"field": "y2"}}},
            {"data": {"name": "ir"}, "mark": {"type": "line", "color": "#ff0000", "strokeWidth": 3, "interpolate": "monotone"}, "encoding": {"detail": {"field": "c"}}},
            {"data": {"name": "ig"}, "mark": {"type": "line", "color": "#00ee00", "strokeWidth": 3, "interpolate": "monotone"}, "encoding": {"detail": {"field": "c"}}},
            {"data": {"name": "ib"}, "mark": {"type": "line", "color": "#0000ff", "strokeWidth": 3, "interpolate": "monotone"}, "encoding": {"detail": {"field": "c"}}},
            {"data": {"name": "im"}, "mark": {"type": "square", "color": "#000000", "size": 28, "opacity": 1, "filled": true}}
          ]
        }
      ],
      "resolve": {"scale": {"x": "independent", "y": "independent"}}
    }
  ],
  "spacing": 133.2,
  "bounds": "flush"
},
{
  "hconcat": [
    {
      "width": 406, "height": 259,
      "title": {"text": "(b) Log-intercept function", "orient": "bottom", "offset": 4, "dx": -15, "anchor": "middle", "frame": "group"},
      "layer": [
        {
          "encoding": {
            "x": {"field": "x", "type": "quantitative", "scale": {"type": "log", "domain": [0.3, 3000], "nice": false},
                  "axis": {"orient": "bottom", "values": [0.3,0.4,0.5,0.6,0.7,0.8,0.9,1,2,3,4,5,6,7,8,9,10,20,30,40,50,60,70,80,90,100,200,300,400,500,600,700,800,900,1000,2000,3000],
                           "labelExpr": "datum.value==1?'10⁰':datum.value==10?'10¹':datum.value==100?'10²':datum.value==1000?'10³':''",
                           "tickSize": {"condition": {"test": "indexof([1,10,100,1000],datum.value)>=0", "value": -7}, "value": -4},
                           "labelPadding": 19, "title": "ξ₂⁺", "titleFontStyle": "italic", "titleFontSize": 24, "titlePadding": 17}},
            "y": {"field": "y", "type": "quantitative", "scale": {"domain": [0, 25], "nice": false, "zero": false},
                  "axis": {"orient": "left", "values": [0,5,10,15,20,25], "tickSize": -7, "labelPadding": 14, "title": "Ψ⁺ = u₁⁺ − κ⁻¹ ln(ξ₂⁺)", "titleFontSize": 22, "titlePadding": 4}}
          },
          "layer": [
            {"data": {"name": "br"}, "mark": {"type": "line", "color": "#ff0000", "strokeWidth": 2, "interpolate": "monotone"}, "encoding": {"detail": {"field": "c"}}},
            {"data": {"name": "bg"}, "mark": {"type": "line", "color": "#00ee00", "strokeWidth": 2, "interpolate": "monotone"}, "encoding": {"detail": {"field": "c"}}},
            {"data": {"name": "bb"}, "mark": {"type": "line", "color": "#0000ff", "strokeWidth": 2, "interpolate": "monotone"}, "encoding": {"detail": {"field": "c"}}},
            {"data": {"name": "bm"}, "mark": {"type": "square", "color": "#000000", "size": 22, "opacity": 1, "filled": true}},
            {"data": {"values": [{"x": 54.4, "y": 1.74, "y2": 20.4}]}, "mark": {"type": "rule", "color": "#000000", "strokeWidth": 1}, "encoding": {"y2": {"field": "y2"}}},
            {"data": {"values": [{"x": 54.4, "y": 20.98}]}, "mark": {"type": "point", "shape": "triangle-up", "filled": true, "color": "#000000", "opacity": 1, "size": 45, "yOffset": 3}},
            {"data": {"values": [{"x": 54.4, "y": 21.6, "t": "Re"}]}, "mark": {"type": "text", "font": "Liberation Serif", "fontStyle": "italic", "fontSize": 20, "align": "right", "baseline": "alphabetic", "dx": 0}, "encoding": {"text": {"field": "t"}}},
            {"data": {"values": [{"x": 54.4, "y": 21.3, "t": "δ*"}]}, "mark": {"type": "text", "font": "Liberation Serif", "fontStyle": "italic", "fontSize": 13, "align": "left", "baseline": "alphabetic", "dx": 0}, "encoding": {"text": {"field": "t"}}}
          ]
        },
        {
          "data": {"values": [{"x": 1, "y": 1}]},
          "mark": {"type": "point", "opacity": 0},
          "encoding": {
            "x": {"field": "x", "type": "quantitative", "scale": {"type": "log", "domain": [0.3, 3000], "nice": false},
                  "axis": {"orient": "top", "values": [0.3,0.4,0.5,0.6,0.7,0.8,0.9,1,2,3,4,5,6,7,8,9,10,20,30,40,50,60,70,80,90,100,200,300,400,500,600,700,800,900,1000,2000,3000], "labels": false, "title": null,
                           "tickSize": {"condition": {"test": "indexof([1,10,100,1000],datum.value)>=0", "value": -7}, "value": -4}}},
            "y": {"field": "y", "type": "quantitative", "scale": {"domain": [0, 25], "nice": false, "zero": false},
                  "axis": {"orient": "right", "values": [0,5,10,15,20,25], "labels": false, "title": null, "tickSize": -7}}
          }
        }
      ],
      "resolve": {"scale": {"x": "independent", "y": "independent"}}
    },
    {
      "width": 389, "height": 257,
      "title": {"text": "(c) Log-indicator function", "orient": "bottom", "offset": 4, "dx": -13, "anchor": "middle", "frame": "group"},
      "layer": [
        {
          "encoding": {
            "x": {"field": "x", "type": "quantitative", "scale": {"type": "log", "domain": [0.3, 3000], "nice": false},
                  "axis": {"orient": "bottom", "values": [0.3,0.4,0.5,0.6,0.7,0.8,0.9,1,2,3,4,5,6,7,8,9,10,20,30,40,50,60,70,80,90,100,200,300,400,500,600,700,800,900,1000,2000,3000],
                           "labelExpr": "datum.value==1?'10⁰':datum.value==10?'10¹':datum.value==100?'10²':datum.value==1000?'10³':''",
                           "tickSize": {"condition": {"test": "indexof([1,10,100,1000],datum.value)>=0", "value": -7}, "value": -4},
                           "labelPadding": 19, "title": "ξ₂⁺", "titleFontStyle": "italic", "titleFontSize": 24, "titlePadding": 17}},
            "y": {"field": "y", "type": "quantitative", "scale": {"domain": [0, 25], "nice": false, "zero": false},
                  "axis": {"orient": "left", "values": [0,5,10,15,20,25], "tickSize": -7, "labelPadding": 14, "title": "Ξ⁺ = ξ₂⁺ ∂u₁⁺/∂ξ₂⁺", "titleFontSize": 22, "titlePadding": 4}}
          },
          "layer": [
            {"data": {"name": "cr"}, "mark": {"type": "line", "color": "#ff0000", "strokeWidth": 2, "interpolate": "monotone"}, "encoding": {"detail": {"field": "c"}}},
            {"data": {"name": "cg"}, "mark": {"type": "line", "color": "#00ee00", "strokeWidth": 2, "interpolate": "monotone"}, "encoding": {"detail": {"field": "c"}}},
            {"data": {"name": "cb"}, "mark": {"type": "line", "color": "#0000ff", "strokeWidth": 2, "interpolate": "monotone"}, "encoding": {"detail": {"field": "c"}}},
            {"data": {"name": "cm"}, "mark": {"type": "square", "color": "#000000", "size": 22, "opacity": 1, "filled": true}},
            {"data": {"values": [{"x": 95.3, "y": 0.91, "y2": 20.4}]}, "mark": {"type": "rule", "color": "#000000", "strokeWidth": 1}, "encoding": {"y2": {"field": "y2"}}},
            {"data": {"values": [{"x": 95.3, "y": 21.0}]}, "mark": {"type": "point", "shape": "triangle-up", "filled": true, "color": "#000000", "opacity": 1, "size": 45, "yOffset": 3}},
            {"data": {"values": [{"x": 95.3, "y": 22.0, "t": "Re"}]}, "mark": {"type": "text", "font": "Liberation Serif", "fontStyle": "italic", "fontSize": 20, "align": "right", "baseline": "alphabetic", "dx": 0}, "encoding": {"text": {"field": "t"}}},
            {"data": {"values": [{"x": 95.3, "y": 21.7, "t": "δ*"}]}, "mark": {"type": "text", "font": "Liberation Serif", "fontStyle": "italic", "fontSize": 13, "align": "left", "baseline": "alphabetic", "dx": 0}, "encoding": {"text": {"field": "t"}}}
          ]
        },
        {
          "data": {"values": [{"x": 1, "y": 1}]},
          "mark": {"type": "point", "opacity": 0},
          "encoding": {
            "x": {"field": "x", "type": "quantitative", "scale": {"type": "log", "domain": [0.3, 3000], "nice": false},
                  "axis": {"orient": "top", "values": [0.3,0.4,0.5,0.6,0.7,0.8,0.9,1,2,3,4,5,6,7,8,9,10,20,30,40,50,60,70,80,90,100,200,300,400,500,600,700,800,900,1000,2000,3000], "labels": false, "title": null,
                           "tickSize": {"condition": {"test": "indexof([1,10,100,1000],datum.value)>=0", "value": -7}, "value": -4}}},
            "y": {"field": "y", "type": "quantitative", "scale": {"domain": [0, 25], "nice": false, "zero": false},
                  "axis": {"orient": "right", "values": [0,5,10,15,20,25], "labels": false, "title": null, "tickSize": -7}}
          }
        }
      ],
      "resolve": {"scale": {"x": "independent", "y": "independent"}}
    }
  ],
  "spacing": 133.2,
  "bounds": "flush"
}
],
"spacing": 406.3,
"bounds": "flush"
}
